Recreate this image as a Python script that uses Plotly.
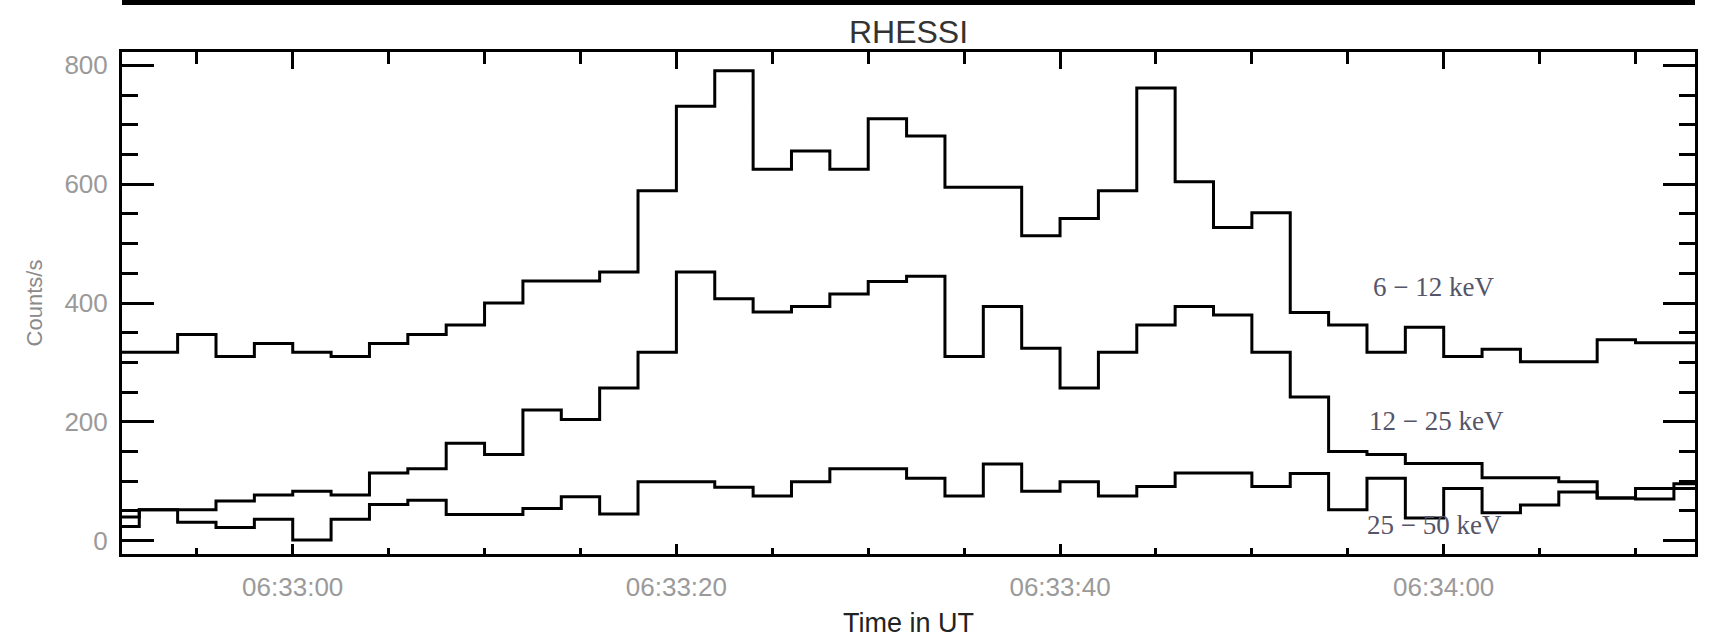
import pandas as pd
import plotly.graph_objects as go

# RHESSI count rates in 2 s accumulation bins, 06:32:50 - 06:34:14 UT
bin_start = pd.date_range("2003-01-01 06:32:50", periods=42, freq="2s")
bin_end = bin_start[-1] + pd.Timedelta(seconds=2)

rate_6_12 = [317, 317, 347, 310, 332, 317, 310, 332, 347, 363,
             400, 437, 437, 452, 589, 731, 791, 625, 656, 625,
             710, 681, 595, 595, 513, 542, 589, 762, 604, 527,
             552, 384, 363, 317, 359, 310, 322, 301, 301, 338,
             333, 333]
rate_12_25 = [40, 52, 52, 67, 77, 83, 77, 114, 121, 164,
              145, 220, 204, 257, 317, 452, 407, 385, 394, 415,
              436, 445, 310, 394, 324, 257, 317, 363, 394, 380,
              317, 242, 150, 145, 130, 130, 106, 106, 99, 72,
              70, 88]
rate_25_50 = [24, 52, 31, 22, 36, 1, 36, 61, 68, 44,
              44, 54, 74, 45, 99, 99, 90, 75, 99, 121,
              121, 105, 75, 129, 83, 99, 75, 91, 114, 114,
              91, 113, 52, 105, 38, 88, 47, 60, 82, 72,
              88, 96]

band_labels = ["6 \u2212 12 keV", "12 \u2212 25 keV", "25 \u2212 50 keV"]
band_label_pos = [("2003-01-01 06:33:56.2", 427),
                  ("2003-01-01 06:33:56.0", 202),
                  ("2003-01-01 06:33:55.9", 27)]

y_tick_values = [0, 200, 400, 600, 800]
x_range = ["2003-01-01 06:32:51.1", "2003-01-01 06:34:13.1"]
y_range = [-22.4, 822.4]

edges = list(bin_start) + [bin_end]


def closed(values):
    return list(values) + [values[-1]]


fig = go.Figure()
line_style = dict(color="black", width=3, shape="hv")
fig.add_trace(go.Scatter(x=edges, y=closed(rate_6_12), mode="lines",
                         line=line_style, name=band_labels[0]))
fig.add_trace(go.Scatter(x=edges, y=closed(rate_12_25), mode="lines",
                         line=line_style, name=band_labels[1]))
fig.add_trace(go.Scatter(x=edges, y=closed(rate_25_50), mode="lines",
                         line=line_style, name=band_labels[2],
                         xaxis="x2"))

tick_font = dict(family="Liberation Sans, Arial, sans-serif", size=26,
                 color="#9a9a9a")

fig.update_layout(
    width=1709, height=644,
    margin=dict(l=122, r=11, t=52, b=90),
    paper_bgcolor="white", plot_bgcolor="white",
    showlegend=False,
    title=dict(text="RHESSI", x=0.5, xref="paper", xanchor="center",
               y=1 - 32 / 644, yanchor="middle",
               font=dict(family="Liberation Sans, Arial, sans-serif",
                         size=32, color="#333333")),
    xaxis=dict(
        type="date", range=x_range, showgrid=False, zeroline=False,
        showline=True, linecolor="black", linewidth=3, mirror=False,
        ticks="inside", ticklen=10, tickwidth=3, tickcolor="black",
        tick0="2003-01-01 06:33:00", dtick=20000, tickformat="%H:%M:%S",
        tickfont=tick_font, ticklabelstandoff=8,
        minor=dict(ticks="inside", ticklen=6, tickwidth=3,
                   tickcolor="black", dtick=5000,
                   tick0="2003-01-01 06:33:00", showgrid=False),
        title=dict(text="Time in UT", standoff=12,
                   font=dict(family="Liberation Sans, Arial, sans-serif",
                             size=27, color="#222222")),
    ),
    xaxis2=dict(
        type="date", matches="x", overlaying="x", side="top",
        anchor="y", showgrid=False, zeroline=False, showline=True,
        linecolor="black", linewidth=3, showticklabels=False,
        ticks="inside", ticklen=17, tickwidth=3, tickcolor="black",
        tick0="2003-01-01 06:33:00", dtick=20000,
        minor=dict(ticks="inside", ticklen=12, tickwidth=3,
                   tickcolor="black", dtick=5000,
                   tick0="2003-01-01 06:33:00", showgrid=False),
    ),
    yaxis=dict(
        range=y_range, showgrid=False, zeroline=False,
        showline=True, linecolor="black", linewidth=3, mirror="ticks",
        ticks="inside", ticklen=32, tickwidth=3, tickcolor="black",
        tickvals=y_tick_values, tickfont=tick_font, ticklabelstandoff=6,
        minor=dict(ticks="inside", ticklen=16, tickwidth=3,
                   tickcolor="black", dtick=50, tick0=0, showgrid=False),
        title=dict(text="Counts/s", standoff=16,
                   font=dict(family="Liberation Sans, Arial, sans-serif",
                             size=22, color="#8a8a8a")),
    ),
)

# heavy rule along the top edge, the base of the panel above
fig.add_shape(type="rect", xref="paper", yref="paper",
              x0=0, x1=1, y0=1 + (52 - 5) / 502, y1=1 + 52 / 502,
              fillcolor="black", line=dict(width=0), layer="above")

for text, (xa, ya) in zip(band_labels, band_label_pos):
    fig.add_annotation(x=xa, y=ya, xref="x", yref="y", text=text,
                       showarrow=False, xanchor="left", yanchor="middle",
                       font=dict(family="Liberation Serif, Times New Roman, serif",
                                 size=27, color="#55556a"))

fig.write_html("out.html")
